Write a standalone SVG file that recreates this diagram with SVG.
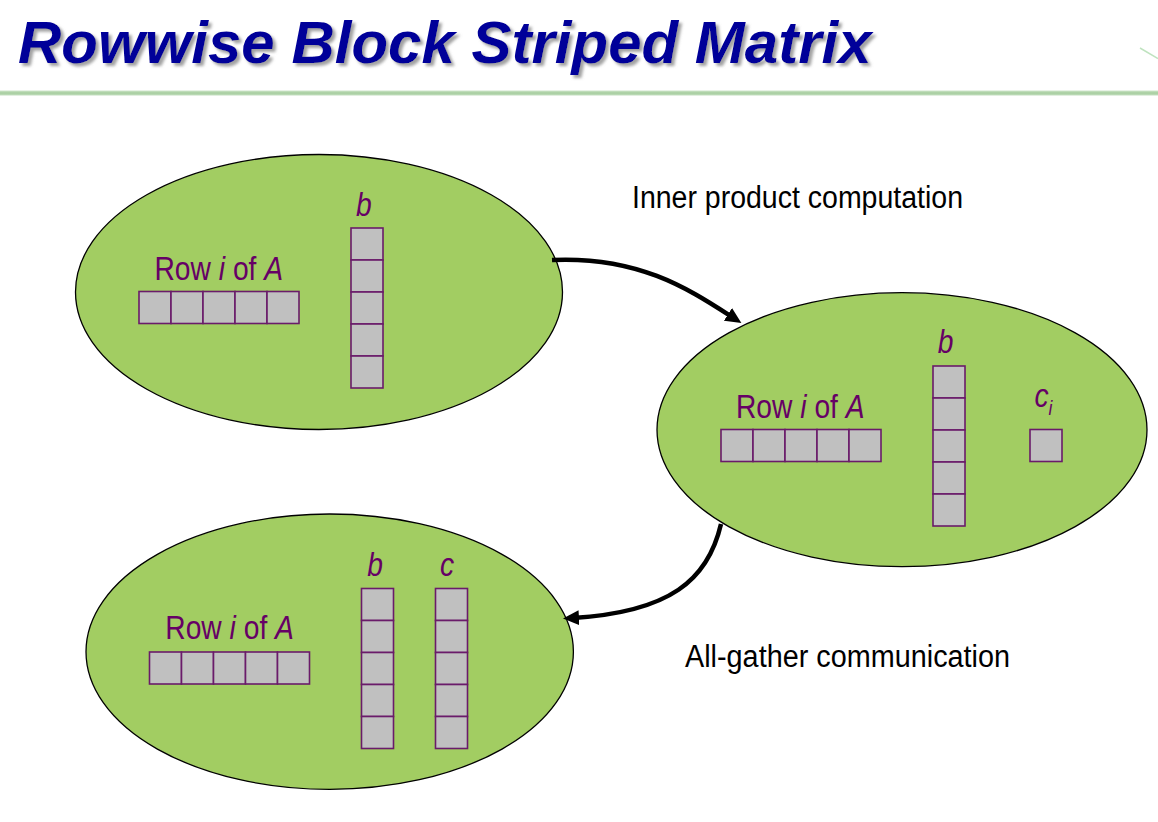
<svg xmlns="http://www.w3.org/2000/svg" width="1158" height="822" viewBox="0 0 1158 822">
  <defs>
    <style>
      .ell { fill: #a2cd62; stroke: #000; stroke-width: 1.3; }
      .cell { fill: #c0c0c0; stroke: #6a1b6a; stroke-width: 1.6; }
      .lbl { font-family: "Liberation Sans", Arial, sans-serif; font-size: 34px; fill: #660066; }
      .it { font-style: italic; }
      .cap { font-family: "Liberation Sans", Arial, sans-serif; font-size: 31px; fill: #000; }
      .conn { fill: none; stroke: #000; stroke-width: 4.5; }
    </style>
    <filter id="shadow" x="-5%" y="-20%" width="110%" height="150%">
      <feDropShadow dx="3" dy="3" stdDeviation="1.6" flood-color="#8a8a8a" flood-opacity="0.8"/>
    </filter>
    <linearGradient id="rule" x1="0" y1="0" x2="0" y2="1">
      <stop offset="0" stop-color="#cfe6cb"/>
      <stop offset="0.5" stop-color="#a6cd9e"/>
      <stop offset="1" stop-color="#c4dfc0"/>
    </linearGradient>
    <marker id="arrow" markerUnits="userSpaceOnUse" markerWidth="18" markerHeight="16" refX="6" refY="8" orient="auto">
      <path d="M0,0.5 L16,8 L0,15.5 z" fill="#000"/>
    </marker>
    <g id="hrow">
      <rect class="cell" x="0" y="0" width="32" height="32"/>
      <rect class="cell" x="32" y="0" width="32" height="32"/>
      <rect class="cell" x="64" y="0" width="32" height="32"/>
      <rect class="cell" x="96" y="0" width="32" height="32"/>
      <rect class="cell" x="128" y="0" width="32" height="32"/>
    </g>
    <g id="vcol">
      <rect class="cell" x="0" y="0" width="32" height="32"/>
      <rect class="cell" x="0" y="32" width="32" height="32"/>
      <rect class="cell" x="0" y="64" width="32" height="32"/>
      <rect class="cell" x="0" y="96" width="32" height="32"/>
      <rect class="cell" x="0" y="128" width="32" height="32"/>
    </g>
  </defs>

  <rect x="0" y="0" width="1158" height="822" fill="#fff"/>

  <!-- header -->
  <g id="header">
    <text x="18" y="63" filter="url(#shadow)" font-family="'Liberation Sans', Arial, sans-serif" font-size="60" font-weight="bold" font-style="italic" fill="#000099">Rowwise Block Striped Matrix</text>
    <rect x="0" y="90.5" width="1158" height="5" fill="url(#rule)"/>
    <line x1="1140" y1="48" x2="1158" y2="58.5" stroke="#bfe3bf" stroke-width="1.5"/>
  </g>

  <!-- node 1 -->
  <g id="node1">
    <ellipse class="ell" cx="319" cy="292" rx="243.5" ry="137.5"/>
    <text class="lbl" transform="translate(154.5,279.5) scale(0.83,1)">Row <tspan class="it">i</tspan> of <tspan class="it">A</tspan></text>
    <use href="#hrow" x="139" y="291.5"/>
    <text class="lbl it" transform="translate(356,216) scale(0.83,1)">b</text>
    <use href="#vcol" x="351" y="228"/>
  </g>

  <!-- node 2 -->
  <g id="node2">
    <ellipse class="ell" cx="902" cy="429.7" rx="245" ry="137"/>
    <text class="lbl" transform="translate(736,417.7) scale(0.83,1)">Row <tspan class="it">i</tspan> of <tspan class="it">A</tspan></text>
    <use href="#hrow" x="721" y="429.5"/>
    <text class="lbl it" transform="translate(937.7,352.7) scale(0.83,1)">b</text>
    <use href="#vcol" x="933" y="366"/>
    <text class="lbl it" transform="translate(1034.5,406.7) scale(0.83,1)">c<tspan font-size="21" dy="8">i</tspan></text>
    <rect class="cell" x="1030" y="429.5" width="32" height="32"/>
  </g>

  <!-- node 3 -->
  <g id="node3">
    <ellipse class="ell" cx="329.7" cy="651.7" rx="243.7" ry="137.7"/>
    <text class="lbl" transform="translate(165.3,639.3) scale(0.83,1)">Row <tspan class="it">i</tspan> of <tspan class="it">A</tspan></text>
    <use href="#hrow" x="149.5" y="652"/>
    <text class="lbl it" transform="translate(367.3,576) scale(0.83,1)">b</text>
    <use href="#vcol" x="361.5" y="588.5"/>
    <text class="lbl it" transform="translate(440,576) scale(0.83,1)">c</text>
    <use href="#vcol" x="435.5" y="588.5"/>
  </g>

  <!-- connectors -->
  <g id="connectors">
    <path class="conn" d="M552,260 C640,256 690,290 733,317.6" marker-end="url(#arrow)"/>
    <path class="conn" d="M721,524 C708,580 670,612 573,618" marker-end="url(#arrow)"/>
    <text class="cap" x="632" y="208" textLength="331" lengthAdjust="spacingAndGlyphs">Inner product computation</text>
    <text class="cap" x="685" y="667" textLength="325" lengthAdjust="spacingAndGlyphs">All-gather communication</text>
  </g>
</svg>
